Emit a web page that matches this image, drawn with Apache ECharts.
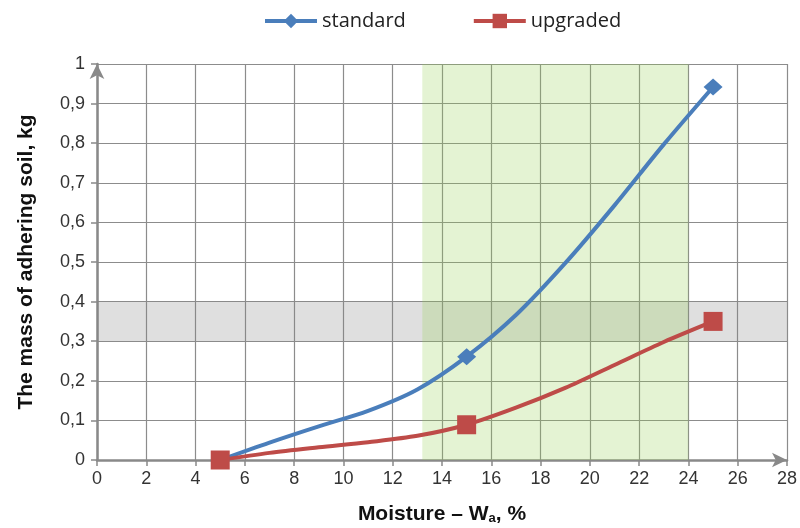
<!DOCTYPE html>
<html>
<head>
<meta charset="utf-8">
<script src="https://cdn.jsdelivr.net/npm/echarts@6/dist/echarts.min.js"></script>
<style>html,body{margin:0;padding:0;background:#fff}#c{width:800px;height:528px}</style>
</head>
<body>
<div id="c"></div>
<script>
// Data
var moisture = [5, 7, 9, 11, 13, 15, 17, 19, 21, 23, 25];
var standard = [0, 0.044, 0.085, 0.124, 0.178, 0.261, 0.366, 0.497, 0.643, 0.797, 0.942];
var upgraded = [0, 0.018, 0.032, 0.045, 0.061, 0.089, 0.132, 0.182, 0.240, 0.298, 0.350];
var measured = [5, 15, 25];
var greenBand = [13.2, 24];
var grayBand = [0.3, 0.4];

function build(vals) {
  return moisture.map(function (x, i) {
    var item = { value: [x, vals[i]] };
    if (measured.indexOf(x) < 0) item.symbol = 'none';
    return item;
  });
}
var fmt = function (v) { return String(+v.toFixed(2)).replace('.', ','); };

var chart = echarts.init(document.getElementById('c'));
chart.setOption({
  animation: false,
  textStyle: { fontFamily: 'Liberation Sans' },
  legend: {
    top: 6, left: 258, itemWidth: 52, itemHeight: 18, itemGap: 66,
    lineStyle: { width: 4 },
    textStyle: { fontFamily: 'Open Sans', fontSize: 20, color: '#222' },
    data: ['standard', 'upgraded']
  },
  grid: { left: 97, right: 13, top: 64, bottom: 68, outerBoundsMode: 'none' },
  xAxis: {
    type: 'value', min: 0, max: 28, interval: 2,
    name: 'Moisture – W{sub|a}, %', nameLocation: 'middle', nameGap: 44,
    nameTextStyle: { fontSize: 21, fontWeight: 'bold', color: '#111',
      rich: { sub: { fontSize: 13, fontWeight: 'bold', color: '#111', verticalAlign: 'bottom', padding: [8, 0, 0, 0] } } },
    axisLine: { show: true, lineStyle: { color: '#898989', width: 2.5 }, symbol: ['none', 'arrow'], symbolSize: [11, 15] },
    axisTick: { show: true, length: 6, lineStyle: { color: '#898989', width: 1.5 } },
    axisLabel: { fontSize: 18, color: '#333', margin: 10, formatter: fmt },
    splitLine: { show: true, lineStyle: { color: '#8c8c8c', width: 1.2 } }
  },
  yAxis: {
    type: 'value', min: 0, max: 1, interval: 0.1,
    name: 'The mass of adhering soil, kg', nameLocation: 'middle', nameGap: 60, nameRotate: 90,
    nameTextStyle: { fontSize: 21, fontWeight: 'bold', color: '#111' },
    axisLine: { show: true, lineStyle: { color: '#898989', width: 2.5 }, symbol: ['none', 'arrow'], symbolSize: [11, 15] },
    axisTick: { show: true, length: 6, lineStyle: { color: '#898989', width: 1.5 } },
    axisLabel: { fontSize: 18, color: '#333', margin: 12, formatter: fmt },
    splitLine: { show: true, lineStyle: { color: '#8c8c8c', width: 1.2 } }
  },
  series: [
    {
      name: 'standard', type: 'line', smooth: 0.3, z: 3,
      symbol: 'diamond', symbolSize: [19, 17],
      lineStyle: { color: '#4a7ebb', width: 4 },
      itemStyle: { color: '#4a7ebb' },
      data: build(standard)
    },
    {
      name: 'upgraded', type: 'line', smooth: 0.3, z: 3,
      symbol: 'rect', symbolSize: 19,
      lineStyle: { color: '#be4b48', width: 4 },
      itemStyle: { color: '#be4b48' },
      data: build(upgraded)
    },
    {
      name: 'bands', type: 'line', data: [], z: 10, silent: true,
      markArea: {
        silent: true,
        data: [
          [{ yAxis: grayBand[0], itemStyle: { color: 'rgba(128,128,128,0.25)' } }, { yAxis: grayBand[1] }],
          [{ xAxis: greenBand[0], itemStyle: { color: 'rgba(146,208,80,0.25)' } }, { xAxis: greenBand[1] }]
        ]
      }
    }
  ]
});
</script>
</body>
</html>
